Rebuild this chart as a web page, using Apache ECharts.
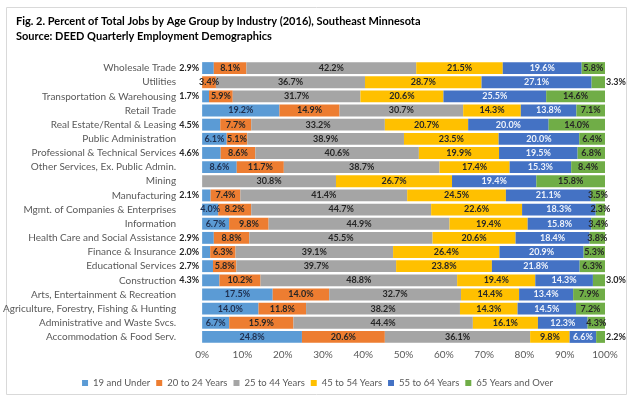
<!DOCTYPE html>
<html>
<head>
<meta charset="utf-8">
<script src="https://cdn.jsdelivr.net/npm/echarts@6/dist/echarts.min.js"></script>
<style>
  html, body { margin: 0; padding: 0; background: #fff; }
  #chart { width: 635px; height: 401px; }
</style>
</head>
<body>
<div id="chart"></div>
<script>
// industries, top to bottom as drawn
var industries = [
    'Wholesale Trade', 'Utilities', 'Transportation & Warehousing', 'Retail Trade',
    'Real Estate/Rental & Leasing', 'Public Administration', 'Professional & Technical Services',
    'Other Services, Ex. Public Admin.', 'Mining', 'Manufacturing', 'Mgmt. of Companies & Enterprises',
    'Information', 'Health Care and Social Assistance', 'Finance & Insurance', 'Educational Services',
    'Construction', 'Arts, Entertainment & Recreation', 'Agriculture, Forestry, Fishing & Hunting',
    'Administrative and Waste Svcs.', 'Accommodation & Food Serv.'
];
var ageGroups = ['19 and Under', '20 to 24 Years', '25 to 44 Years', '45 to 54 Years', '55 to 64 Years', '65 Years and Over'];

// percent of jobs (null = suppressed)
var under19   = [2.9, null, 1.7, 19.2, 4.5, 6.1, 4.6, 8.6, null, 2.1, 4.0, 6.7, 2.9, 2.0, 2.7, 4.3, 17.5, 14.0, 6.7, 24.8];
var age20to24 = [8.1, 3.4, 5.9, 14.9, 7.7, 5.1, 8.6, 11.7, null, 7.4, 8.2, 9.8, 8.8, 6.3, 5.8, 10.2, 14.0, 11.8, 15.9, 20.6];
var age25to44 = [42.2, 36.7, 31.7, 30.7, 33.2, 38.9, 40.6, 38.7, 30.8, 41.4, 44.7, 44.9, 45.5, 39.1, 39.7, 48.8, 32.7, 38.2, 44.4, 36.1];
var age45to54 = [21.5, 28.7, 20.6, 14.3, 20.7, 23.5, 19.9, 17.4, 26.7, 24.5, 22.6, 19.4, 20.6, 26.4, 23.8, 19.4, 14.4, 14.3, 16.1, 9.8];
var age55to64 = [19.6, 27.1, 25.5, 13.8, 20.0, 20.0, 19.5, 15.3, 19.4, 21.1, 18.3, 15.8, 18.4, 20.9, 21.8, 14.3, 13.4, 14.5, 12.3, 6.6];
var age65plus = [5.8, 3.3, 14.6, 7.1, 14.0, 6.4, 6.8, 8.4, 15.8, 3.5, 2.3, 3.4, 3.8, 5.3, 6.3, 3.0, 7.9, 7.2, 4.3, 2.2];

var xTicks = [0, 10, 20, 30, 40, 50, 60, 70, 80, 90, 100];

// labels drawn outside the bar, as in the source
var leftLabelRows = ['Wholesale Trade', 'Transportation & Warehousing', 'Real Estate/Rental & Leasing',
    'Professional & Technical Services', 'Manufacturing', 'Health Care and Social Assistance',
    'Finance & Insurance', 'Educational Services', 'Construction'];
var rightLabelRows = ['Utilities', 'Construction', 'Accommodation & Food Serv.'];

var allSeries = [under19, age20to24, age25to44, age45to54, age55to64, age65plus];
var colors = ['#5B9BD5', '#ED7D31', '#A5A5A5', '#FFC000', '#4472C4', '#70AD47'];
var labelColors = ['#1F2F4F', '#262626', '#262626', '#262626', '#EEF2FA', '#262626'];

// 100% stacked: every row is scaled to its own total
var rowTotals = industries.map(function (name, i) {
    var s = 0;
    allSeries.forEach(function (arr) { s += arr[i] || 0; });
    return s;
});

var chart = echarts.init(document.getElementById('chart'));
var font = 'Lato, "Open Sans", sans-serif';

var series = allSeries.map(function (arr, k) {
    return {
        name: ageGroups[k],
        type: 'bar',
        stack: 'total',
        barCategoryGap: '16%',
        itemStyle: { color: colors[k] },
        label: {
            show: true,
            position: 'inside',
            fontFamily: font,
            fontSize: 9,
            fontWeight: 'bold',
            color: labelColors[k],
            formatter: function (p) { return arr[p.dataIndex].toFixed(1) + '%'; }
        },
        data: arr.map(function (v, i) {
            if (v === null) return null;
            var item = { value: v / rowTotals[i] * 100 };
            if (k === 0 && leftLabelRows.indexOf(industries[i]) >= 0) {
                item.label = { position: 'left', distance: 3, color: '#262626' };
            }
            if (k === 5 && rightLabelRows.indexOf(industries[i]) >= 0) {
                item.label = { position: 'right', distance: 1 };
            }
            return item;
        })
    };
});

var option = {
    animation: false,
    textStyle: { fontFamily: font },
    title: {
        left: 11,
        top: 9,
        text: 'Fig. 2. Percent of Total Jobs by Age Group by Industry (2016), Southeast Minnesota\nSource: DEED Quarterly Employment Demographics',
        textStyle: { fontFamily: font, fontSize: 11, fontWeight: 'bold', color: '#000', lineHeight: 15 }
    },
    graphic: [{
        type: 'rect',
        shape: { x: 6.5, y: 7.5, width: 620, height: 387 },
        style: { fill: 'none', stroke: '#D9D9D9', lineWidth: 1 },
        silent: true
    }],
    legend: {
        data: ageGroups,
        top: 373,
        left: 'center',
        icon: 'rect',
        itemWidth: 6,
        itemHeight: 6,
        itemGap: 6,
        textStyle: { fontFamily: font, fontSize: 9.5, color: '#595959' }
    },
    grid: { left: 196, right: 30, top: 61, bottom: 57 },
    xAxis: {
        type: 'value',
        min: 0,
        max: 100,
        interval: 10,
        axisLine: { show: false },
        axisTick: { show: false },
        splitLine: { show: false },
        axisLabel: {
            fontFamily: font,
            fontSize: 10,
            color: '#595959',
            margin: 6,
            formatter: function (v) { return xTicks.indexOf(v) >= 0 ? v + '%' : ''; }
        }
    },
    yAxis: {
        type: 'category',
        inverse: true,
        data: industries,
        axisLine: { show: false },
        axisTick: { show: false },
        axisLabel: { fontFamily: font, fontSize: 10, color: '#595959', margin: 26 }
    },
    series: series
};
chart.setOption(option);
</script>
</body>
</html>
